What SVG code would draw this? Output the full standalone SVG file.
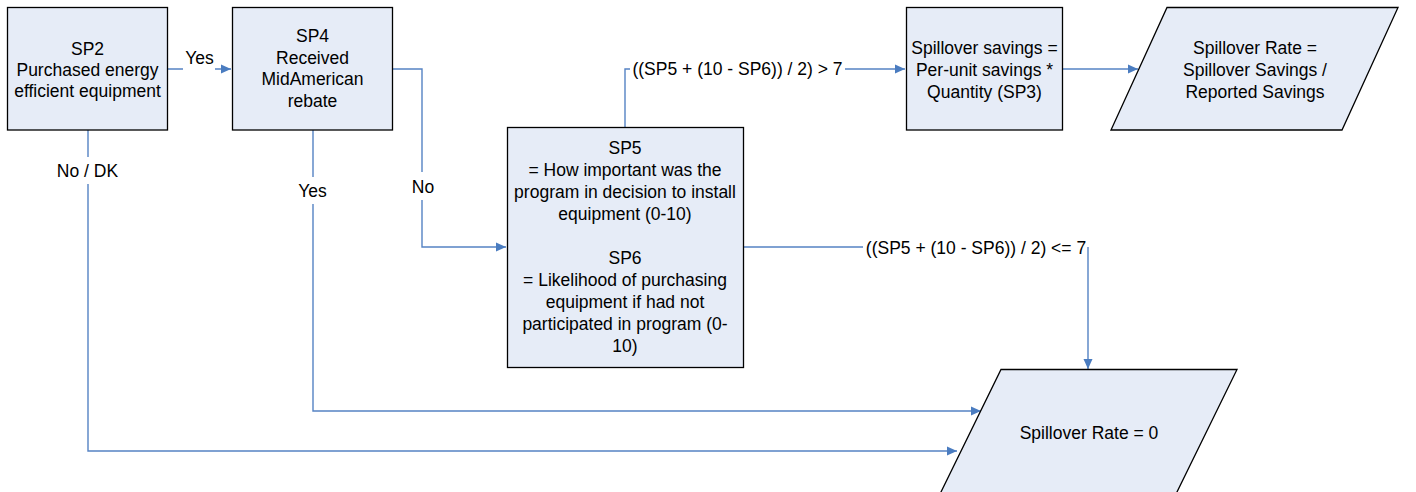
<svg xmlns="http://www.w3.org/2000/svg" width="1416" height="492" viewBox="0 0 1416 492">
<style>
.box{fill:#e6ecf7;stroke:#000;stroke-width:1.3}
.t{font-family:"Liberation Sans",Arial,sans-serif;font-size:17.5px;fill:#000;text-anchor:middle}
.c{fill:none;stroke:#5583c4;stroke-width:1.4}
.lbl{font-family:"Liberation Sans",Arial,sans-serif;font-size:17.5px;fill:#000;text-anchor:middle}
</style>
<defs>
<marker id="ah" viewBox="0 0 10 10" refX="10" refY="5" markerWidth="10" markerHeight="10" markerUnits="userSpaceOnUse" orient="auto">
<path d="M0,0.5 L10,5 L0,9.5 Z" fill="#4a7cc0"/>
</marker>
</defs>
<g id="connectors">
<path class="c" d="M168,69 H183 M215,69 H231" marker-end="url(#ah)"/>
<path class="c" d="M392,69 H422 V172 M422,200 V247 H506" marker-end="url(#ah)"/>
<path class="c" d="M625,127 V69 H630 M845,69 H905" marker-end="url(#ah)"/>
<path class="c" d="M1062,69 H1138" marker-end="url(#ah)"/>
<path class="c" d="M743,247 H863 M1088,247 V369" marker-end="url(#ah)"/>
<path class="c" d="M313,130 V177 M313,204 V411 H981" marker-end="url(#ah)"/>
<path class="c" d="M88,130 V157 M88,184 V451 H957" marker-end="url(#ah)"/>
<text class="lbl" x="199.5" y="63.5">Yes</text>
<text class="lbl" x="423" y="192.5">No</text>
<text class="lbl" x="312.5" y="196.5">Yes</text>
<text class="lbl" x="87.5" y="176.5">No / DK</text>
<text class="lbl" x="737.5" y="74.5">((SP5 + (10 - SP6)) / 2) &gt; 7</text>
<text class="lbl" x="976" y="253.5">((SP5 + (10 - SP6)) / 2) &lt;= 7</text>
</g>
<g id="sp2">
<rect class="box" x="7.5" y="7.5" width="160" height="122.5"/>
<text class="t" x="87.5" y="54.5">SP2</text>
<text class="t" x="87.5" y="75.5">Purchased energy</text>
<text class="t" x="87.5" y="96.5">efficient equipment</text>
</g>
<g id="sp4">
<rect class="box" x="232.5" y="7.5" width="160" height="122.5"/>
<text class="t" x="312.5" y="42">SP4</text>
<text class="t" x="312.5" y="63.5">Received</text>
<text class="t" x="312.5" y="85">MidAmerican</text>
<text class="t" x="312.5" y="106.5">rebate</text>
</g>
<g id="sp5">
<rect class="box" x="507.5" y="127.5" width="236" height="240"/>
<text class="t" x="625" y="153.5">SP5</text>
<text class="t" x="625" y="175.5"> = How important was the</text>
<text class="t" x="625" y="197.5">program in decision to install</text>
<text class="t" x="625" y="219.5">equipment (0-10)</text>
<text class="t" x="625" y="263.5">SP6</text>
<text class="t" x="625" y="285.5">= Likelihood of purchasing</text>
<text class="t" x="625" y="307.5">equipment if had not</text>
<text class="t" x="625" y="329.5">participated in program (0-</text>
<text class="t" x="625" y="352">10)</text>
</g>
<g id="savings">
<rect class="box" x="906.5" y="7.5" width="156" height="122.5"/>
<text class="t" x="984.5" y="54">Spillover savings =</text>
<text class="t" x="984.5" y="76">Per-unit savings *</text>
<text class="t" x="984.5" y="97.5">Quantity (SP3)</text>
</g>
<g id="rate">
<polygon class="box" points="1167,7.5 1398,7.5 1342,130 1111,130"/>
<text class="t" x="1255" y="54">Spillover Rate =</text>
<text class="t" x="1255" y="76">Spillover Savings /</text>
<text class="t" x="1255" y="97.5">Reported Savings</text>
</g>
<g id="rate0">
<polygon class="box" points="1001,369.5 1237,369.5 1176,494 940,494"/>
<text class="t" x="1089" y="438.5">Spillover Rate = 0</text>
</g>
</svg>
